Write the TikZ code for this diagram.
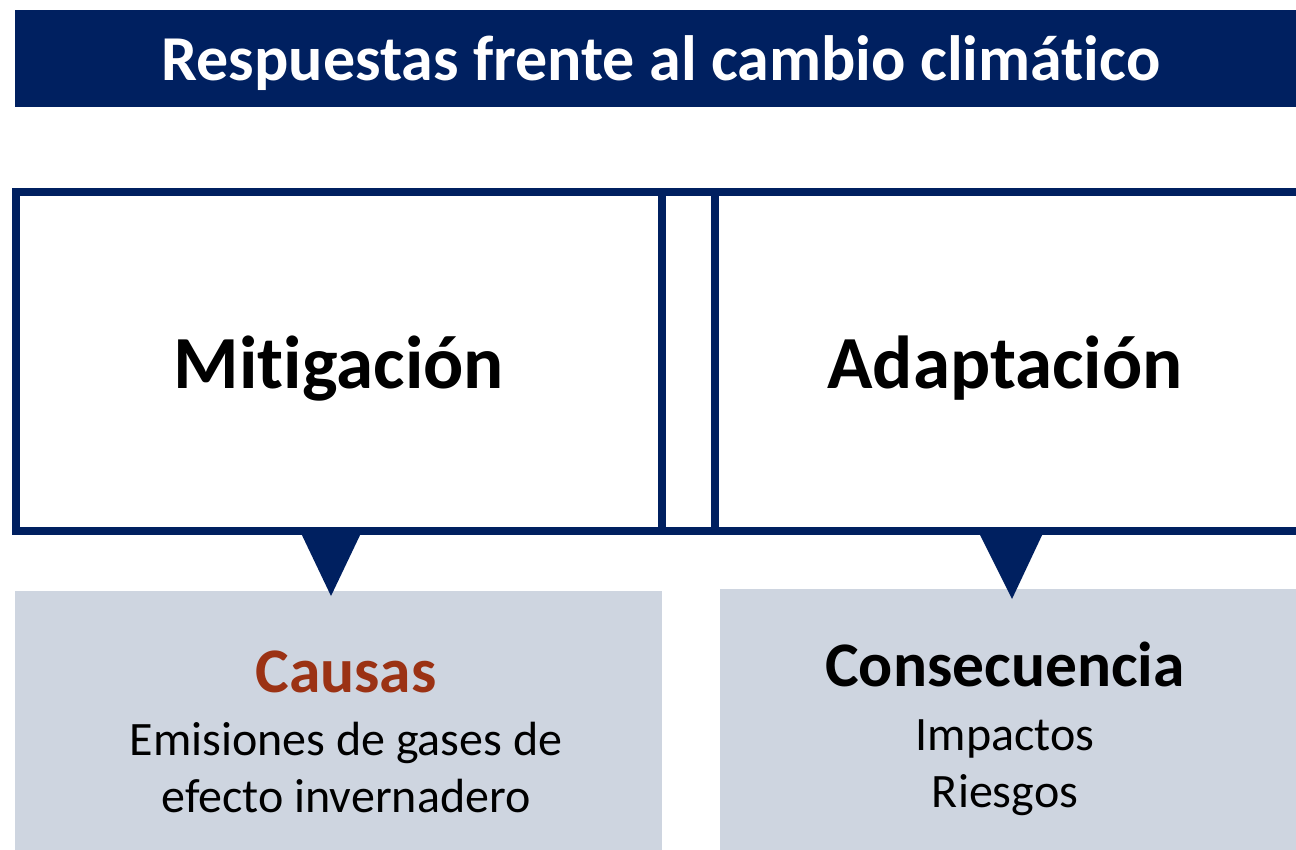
\documentclass[tikz,border=0pt]{standalone}
\usepackage{fontspec}
\setmainfont[Ligatures=NoCommon]{Carlito}
\usetikzlibrary{positioning}
\definecolor{navy}{RGB}{0,32,96}
\definecolor{slate}{RGB}{206,213,224}
\definecolor{rust}{RGB}{155,50,20}
\tikzset{
    banner/.style={rectangle, fill=navy, inner sep=0pt, anchor=north west},
    frame/.style={rectangle, draw=navy, line width=8pt, inner sep=0pt},
    panel/.style={rectangle, fill=slate, inner sep=0pt, anchor=north west},
    pointer/.style={fill=navy},
    label/.style={anchor=base, inner sep=0pt, font=\fontsize{75}{80}\selectfont\bfseries},
    heading/.style={anchor=base, inner sep=0pt, font=\fontsize{63.5}{68}\selectfont\bfseries},
    detail/.style={anchor=base, inner sep=0pt, font=\fontsize{48}{52}\selectfont}
}

\begin{document}
\begin{tikzpicture}[x=1pt, y=-1pt]
    \useasboundingbox (0,0) rectangle (1296,849);

    % Title bar
    \node[banner, minimum width=1300pt, minimum height=97pt] (bar) at (15,10) {};
    \node[anchor=base, inner sep=0pt, text=white, font=\fontsize{64}{68}\selectfont\bfseries] (title) at (661,80) {Respuestas frente al cambio climático};

    % Framed boxes
    \node[frame, minimum width=646pt, minimum height=339pt] (mitig) at (339,361.5) {};
    \node[frame, minimum width=53pt, minimum height=339pt] (gap) at (688.5,361.5) {};
    \node[frame, minimum width=585pt, minimum height=339pt] (adapt) at (1007.5,361.5) {};
    \node[label] (mitigtext) at (339,388) {Mitigación};
    \node[label] (adapttext) at (1005,388) {Adaptación};

    % Grey panels
    \node[panel, minimum width=647pt, minimum height=270pt] (causes) at (15,591) {};
    \node[panel, minimum width=590pt, minimum height=270pt] (effects) at (720,589) {};

    % Pointers
    \fill[pointer] (300,531) -- (362,531) -- (331,596) -- cycle;
    \fill[pointer] (978,531) -- (1044,531) -- (1012,599) -- cycle;

    % Panel texts
    \node[heading, text=rust] (causas) at (346,692) {Causas};
    \node[detail] (emis1) at (346,755) {Emisiones de gases de};
    \node[detail] (emis2) at (346,812) {efecto invernadero};
    \node[heading] (conseq) at (1005,686) {Consecuencia};
    \node[detail] (impact) at (1005,750) {Impactos};
    \node[detail] (risk) at (1005,807) {Riesgos};
\end{tikzpicture}
\end{document}
